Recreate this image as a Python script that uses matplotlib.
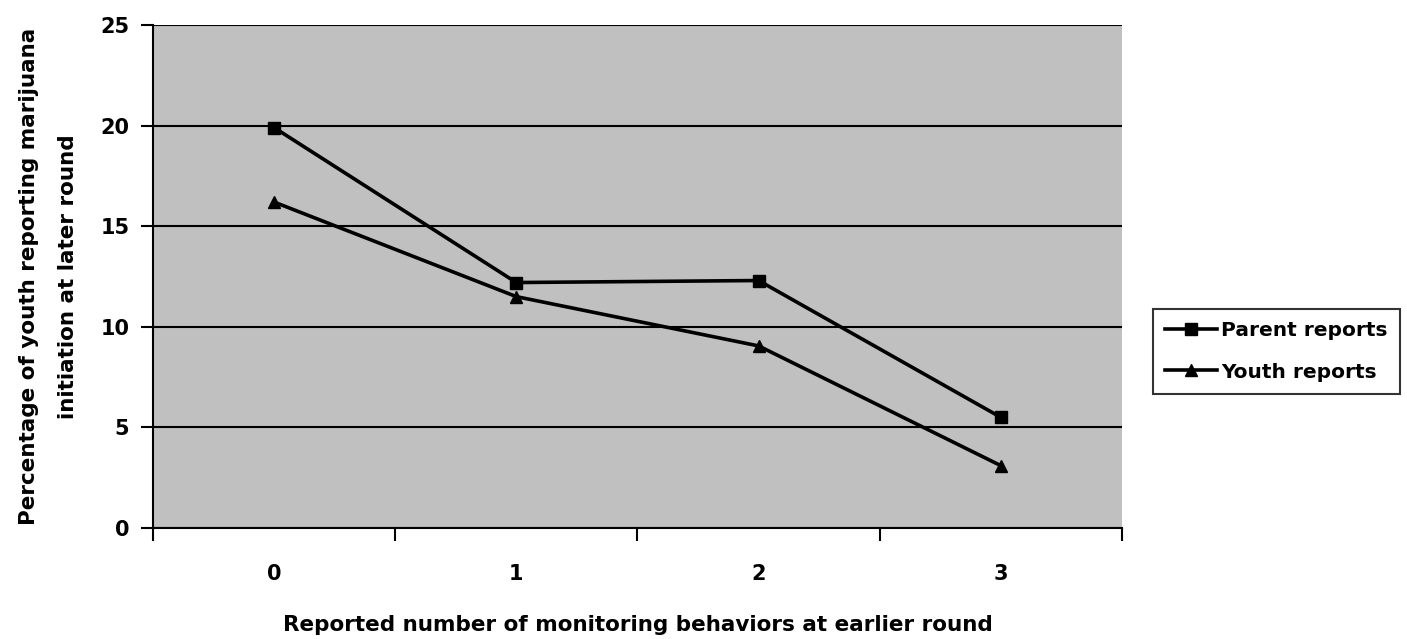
import matplotlib
matplotlib.use('Agg')
import matplotlib.pyplot as plt

# data
categories = [0, 1, 2, 3]
parent_reports = [19.9, 12.2, 12.3, 5.5]
youth_reports = [16.2, 11.5, 9.05, 3.1]
y_ticks = [0, 5, 10, 15, 20, 25]

plt.rcParams['font.family'] = ['DejaVu Sans']
plt.rcParams['font.weight'] = 'bold'

fig = plt.figure(figsize=(14.07, 6.39), dpi=100)
ax = fig.add_axes([0.1087, 0.1737, 0.6887, 0.7872])
ax.set_facecolor('#C0C0C0')

ax.plot(categories, parent_reports, color='black', lw=2.6, marker='s', ms=9,
        label='Parent reports', zorder=3)
ax.plot(categories, youth_reports, color='black', lw=2.6, marker='^', ms=9,
        label='Youth reports', zorder=3)

ax.set_ylim(0, 25)
ax.set_yticks(y_ticks)
ax.yaxis.grid(True, color='black', lw=1.5)
ax.set_axisbelow(True)

ax.set_xlim(-0.5, 3.5)
ax.set_xticks([-0.5, 0.5, 1.5, 2.5, 3.5])
ax.set_xticklabels([])
ax.set_xticks(categories, minor=True)
ax.set_xticklabels([str(c) for c in categories], minor=True)
ax.tick_params(axis='x', which='minor', length=0, pad=26, labelsize=15)
ax.tick_params(axis='x', which='major', length=9, width=1.5, direction='out')
ax.tick_params(axis='y', length=9, width=1.5, direction='out', labelsize=15, pad=8)

for s in ['top', 'right']:
    ax.spines[s].set_visible(False)
ax.spines['left'].set_linewidth(1.5)
ax.spines['bottom'].set_linewidth(1.5)

ax.set_xlabel('Reported number of monitoring behaviors at earlier round',
              fontsize=15.5, fontweight='bold', labelpad=22)
ax.set_ylabel('Percentage of youth reporting marijuana\ninitiation at later round',
              fontsize=15.5, fontweight='bold', labelpad=16, linespacing=2.2)

leg = fig.legend(loc='center left', bbox_to_anchor=(0.812, 0.45), fontsize=14.5,
                 frameon=True, fancybox=False, edgecolor='black',
                 handlelength=2.6, handletextpad=0.2, borderpad=0.6, labelspacing=1.1)
leg.get_frame().set_linewidth(1.5)

fig.savefig('out.png', dpi=100)
